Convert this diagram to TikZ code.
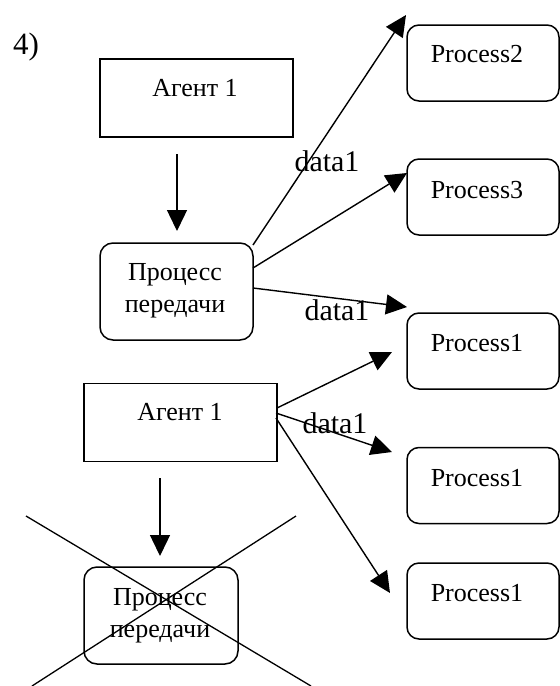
\documentclass[tikz,border=0pt]{standalone}
\usepackage{fontspec}
\setmainfont{Liberation Serif}
\usetikzlibrary{arrows.meta}
\begin{document}
\begin{tikzpicture}[x=1pt,y=-1pt,
  line width=1.5pt,
  sqbox/.style={draw,rectangle,inner sep=0pt,minimum width=193pt,minimum height=78pt},
  rbox/.style={draw,rectangle,rounded corners=13pt,inner sep=0pt,minimum width=153pt,minimum height=97pt},
  pbox/.style={draw,rectangle,rounded corners=12pt,inner sep=0pt,minimum width=152pt,minimum height=76pt},
  txt/.style={inner sep=0pt,font=\fontsize{26}{32}\selectfont,align=center},
  lbl/.style={inner sep=0pt,font=\fontsize{30}{34}\selectfont},
  arr/.style={line width=1.4pt,-{Triangle[length=21pt,width=20pt]}},
  cross/.style={line width=1.3pt}]
\useasboundingbox (0,0) rectangle (560,686);

% section number
\node[inner sep=0pt,font=\fontsize{31}{34}\selectfont] (num) at (26,47) {4)};

% left column: agents and transfer processes
\node[sqbox] (ag1) at (196.5,98) {};
\node[txt] (ag1t) at (195,88) {Агент 1};
\node[rbox] (pp1) at (176.5,291.5) {};
\node[txt] (pp1t) at (175,291) {Процесс\\передачи};

\node[sqbox] (ag2) at (180.5,422.5) {};
\node[txt] (ag2t) at (180,412) {Агент 1};
\node[rbox,minimum width=154pt] (pp2) at (161,615.5) {};
\node[txt] (pp2t) at (160,616) {Процесс\\передачи};

% right column: receiving processes
\node[pbox] (pr2) at (483,63) {};
\node[txt] (pr2t) at (477,54) {Process2};
\node[pbox] (pr3) at (483,197) {};
\node[txt] (pr3t) at (477,190) {Process3};
\node[pbox] (pr1a) at (483,351) {};
\node[txt] (pr1at) at (477,343) {Process1};
\node[pbox] (pr1b) at (483,485.5) {};
\node[txt] (pr1bt) at (477,478) {Process1};
\node[pbox] (pr1c) at (483,601) {};
\node[txt] (pr1ct) at (477,593) {Process1};

% connector end points
\coordinate (a1s) at (177,154);   \coordinate (a1e) at (177,231);
\coordinate (b1s) at (253,245);   \coordinate (b1e) at (406,15);
\coordinate (b2s) at (253,268);   \coordinate (b2e) at (407,173);
\coordinate (b3s) at (253,288);   \coordinate (b3e) at (407,307);
\coordinate (c1s) at (277,408);   \coordinate (c1e) at (392,352);
\coordinate (c2s) at (276,413);   \coordinate (c2e) at (392,452);
\coordinate (c3s) at (276,418);   \coordinate (c3e) at (390,593);
\coordinate (a2s) at (160,478);   \coordinate (a2e) at (160,556);

% connectors
\draw[arr] (a1s) -- (a1e);
\draw[arr] (b1s) -- (b1e);
\draw[arr] (b2s) -- (b2e);
\draw[arr] (b3s) -- (b3e);
\draw[arr] (c1s) -- (c1e);
\draw[arr] (c2s) -- (c2e);
\draw[arr] (c3s) -- (c3e);
\draw[arr] (a2s) -- (a2e);

% data labels
\node[lbl] (d1) at (327,161) {data1};
\node[lbl] (d2) at (337,310) {data1};
\node[lbl] (d3) at (335,423) {data1};

% crossing-out of the lower transfer process
\coordinate (x1a) at (26,516);  \coordinate (x1b) at (311,686);
\coordinate (x2a) at (296,516); \coordinate (x2b) at (32,686);
\draw[cross] (x1a) -- (x1b);
\draw[cross] (x2a) -- (x2b);
\end{tikzpicture}
\end{document}
